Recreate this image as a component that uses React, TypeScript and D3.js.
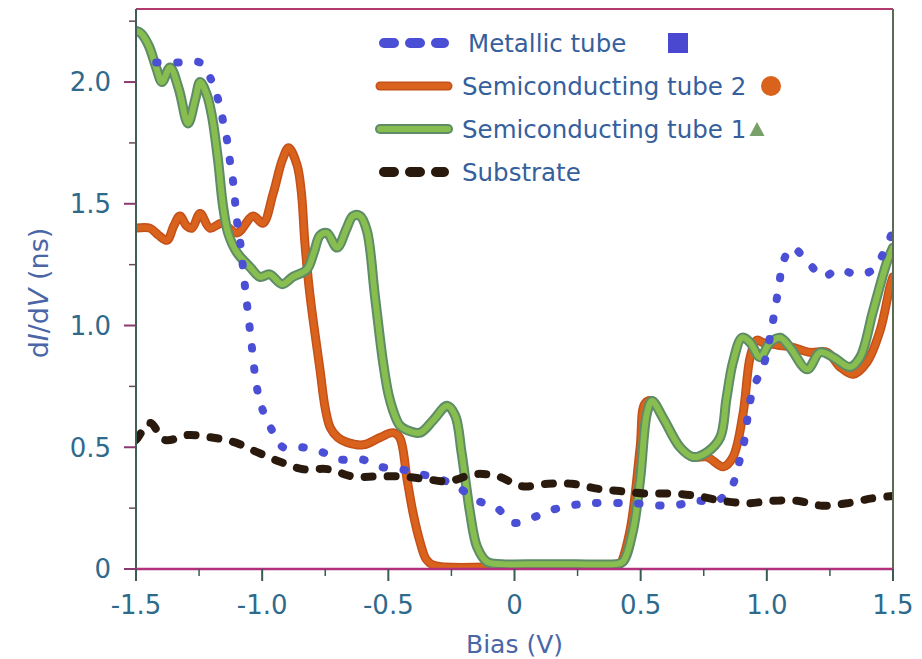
import React from "react";
import * as d3 from "d3";

// ---- data ----
const metallicTube: [number, number][] = [
  [-1.42, 2.08], [-1.3, 2.08], [-1.246, 2.08], [-1.207, 2.02], [-1.175, 1.93], [-1.155, 1.84],
  [-1.139, 1.76], [-1.127, 1.67], [-1.115, 1.59], [-1.1, 1.43], [-1.088, 1.35], [-1.068, 1.16],
  [-1.045, 0.95], [-1.02, 0.74], [-0.997, 0.65], [-0.961, 0.57], [-0.917, 0.5], [-0.842, 0.5],
  [-0.763, 0.48], [-0.691, 0.45], [-0.604, 0.45], [-0.533, 0.42], [-0.454, 0.41], [-0.374, 0.39],
  [-0.295, 0.37], [-0.216, 0.33], [-0.144, 0.28], [-0.069, 0.25], [-0.006, 0.19], [0.07, 0.21],
  [0.141, 0.24], [0.22, 0.26], [0.3, 0.27], [0.47, 0.27], [0.628, 0.26], [0.716, 0.28],
  [0.803, 0.28], [0.862, 0.34], [0.882, 0.41], [0.906, 0.5], [0.934, 0.69], [0.953, 0.76],
  [0.985, 0.83], [1.021, 1.0], [1.049, 1.17], [1.064, 1.26], [1.1, 1.32], [1.163, 1.26],
  [1.223, 1.2], [1.282, 1.23], [1.358, 1.21], [1.421, 1.23], [1.496, 1.38],
];

const semiTube2: [number, number][] = [
  [-1.5, 1.4], [-1.445, 1.4], [-1.41, 1.37], [-1.377, 1.35], [-1.35, 1.41], [-1.326, 1.45],
  [-1.3, 1.41], [-1.278, 1.4], [-1.246, 1.46], [-1.207, 1.4], [-1.159, 1.42], [-1.1, 1.38],
  [-1.036, 1.45], [-0.997, 1.42], [-0.957, 1.54], [-0.92, 1.68], [-0.895, 1.73], [-0.862, 1.66],
  [-0.845, 1.55], [-0.83, 1.33], [-0.81, 1.12], [-0.771, 0.82], [-0.75, 0.66], [-0.73, 0.58],
  [-0.7, 0.54], [-0.664, 0.52], [-0.6, 0.51], [-0.533, 0.54], [-0.481, 0.56], [-0.455, 0.54],
  [-0.426, 0.37], [-0.402, 0.23], [-0.374, 0.11], [-0.35, 0.04], [-0.32, 0.015], [0.0, 0.01],
  [0.4, 0.01], [0.418, 0.02], [0.458, 0.16], [0.498, 0.5], [0.517, 0.68], [0.545, 0.69],
  [0.589, 0.62], [0.656, 0.5], [0.708, 0.46], [0.763, 0.46], [0.827, 0.42], [0.866, 0.46],
  [0.906, 0.64], [0.934, 0.87], [0.961, 0.94], [0.985, 0.93], [1.04, 0.92], [1.104, 0.91],
  [1.171, 0.89], [1.239, 0.89], [1.29, 0.83], [1.342, 0.8], [1.397, 0.85], [1.449, 0.98],
  [1.488, 1.16], [1.5, 1.2],
];

const semiTube1: [number, number][] = [
  [-1.5, 2.21], [-1.48, 2.2], [-1.45, 2.15], [-1.42, 2.06], [-1.397, 2.0], [-1.365, 2.06],
  [-1.33, 1.97], [-1.294, 1.83], [-1.265, 1.93], [-1.246, 2.0], [-1.22, 1.95], [-1.199, 1.86],
  [-1.175, 1.68], [-1.155, 1.49], [-1.135, 1.38], [-1.1, 1.3], [-1.048, 1.24], [-1.009, 1.2],
  [-0.97, 1.21], [-0.921, 1.17], [-0.878, 1.2], [-0.823, 1.23], [-0.795, 1.3], [-0.771, 1.37],
  [-0.743, 1.38], [-0.703, 1.32], [-0.665, 1.4], [-0.64, 1.45], [-0.612, 1.45], [-0.585, 1.39],
  [-0.553, 1.12], [-0.521, 0.85], [-0.5, 0.72], [-0.481, 0.65], [-0.455, 0.59], [-0.426, 0.57],
  [-0.374, 0.56], [-0.323, 0.61], [-0.267, 0.67], [-0.235, 0.63], [-0.21, 0.48], [-0.19, 0.33],
  [-0.176, 0.23], [-0.148, 0.09], [-0.109, 0.03], [-0.05, 0.02], [0.1, 0.02], [0.25, 0.02],
  [0.4, 0.02], [0.43, 0.03], [0.47, 0.16], [0.498, 0.37], [0.525, 0.64], [0.545, 0.69],
  [0.589, 0.62], [0.656, 0.5], [0.708, 0.46], [0.763, 0.48], [0.815, 0.54], [0.84, 0.7],
  [0.866, 0.85], [0.902, 0.95], [0.934, 0.93], [0.973, 0.87], [1.013, 0.93], [1.053, 0.95],
  [1.092, 0.91], [1.16, 0.82], [1.211, 0.89], [1.263, 0.87], [1.33, 0.83], [1.37, 0.87],
  [1.421, 1.06], [1.476, 1.26], [1.5, 1.32],
];

const substrate: [number, number][] = [
  [-1.5, 0.53], [-1.492, 0.54], [-1.445, 0.6], [-1.385, 0.53], [-1.294, 0.55], [-1.199, 0.54],
  [-1.108, 0.52], [-1.02, 0.48], [-0.929, 0.44], [-0.838, 0.41], [-0.739, 0.41], [-0.64, 0.38],
  [-0.545, 0.38], [-0.446, 0.38], [-0.355, 0.37], [-0.263, 0.36], [-0.156, 0.39], [-0.065, 0.38],
  [0.03, 0.34], [0.133, 0.35], [0.228, 0.35], [0.327, 0.33], [0.418, 0.32], [0.517, 0.31],
  [0.624, 0.31], [0.723, 0.3], [0.823, 0.28], [0.922, 0.27], [1.021, 0.28], [1.12, 0.28],
  [1.219, 0.26], [1.318, 0.27], [1.417, 0.29], [1.5, 0.3],
];

const seriesNames = ["Metallic tube", "Semiconducting tube 2", "Semiconducting tube 1", "Substrate"];

const xMajorTicks = [-1.5, -1.0, -0.5, 0, 0.5, 1.0, 1.5];
const xTickLabels = ["-1.5", "-1.0", "-0.5", "0", "0.5", "1.0", "1.5"];
const xMinorTicks = [-1.25, -0.75, -0.25, 0.25, 0.75, 1.25];
const yMajorTicks = [0, 0.5, 1.0, 1.5, 2.0];
const yTickLabels = ["0", "0.5", "1.0", "1.5", "2.0"];
const yMinorTicks = [0.25, 0.75, 1.25, 1.75, 2.25];

// ---- layout ----
const W = 922;
const H = 659;
const L = 136;
const R = 893;
const T = 9;
const B = 569;

const FONT = "'DejaVu Sans', sans-serif";
const TEXT = "#35609c";
const TICKTEXT = "#2f6a8c";
const BLUE = "#4b4fd6";
const ORANGE = "#d9621c";
const GREEN = "#88bd50";
const GREEN_EDGE = "#5e8c66";
const DARK = "#2a1a0e";

export default function App() {
  const x = d3.scaleLinear().domain([-1.5, 1.5]).range([L, R]);
  const y = d3.scaleLinear().domain([0, 2.3]).range([B, T]);
  const line = d3
    .line<[number, number]>()
    .x((d) => x(d[0]))
    .y((d) => y(d[1]))
    .curve(d3.curveCatmullRom.alpha(0.5));

  const legendY = [43, 86, 129, 172];
  const lx0 = 380;
  const lx1 = 448;

  return (
    <svg
      width={W}
      height={H}
      style={{ position: "absolute", left: 0, top: 0, background: "#fff" }}
      fontFamily={FONT}
    >
      <defs>
        <clipPath id="plot">
          <rect x={L} y={T} width={R - L} height={B - T} />
        </clipPath>
      </defs>

      {/* curves */}
      <g clipPath="url(#plot)" fill="none">
        <path d={line(semiTube2) || ""} stroke="#c4501a" strokeWidth={9} strokeLinejoin="round" strokeLinecap="round" />
        <path d={line(semiTube2) || ""} stroke={ORANGE} strokeWidth={6} strokeLinejoin="round" strokeLinecap="round" />
        <path d={line(semiTube1) || ""} stroke={GREEN_EDGE} strokeWidth={10} strokeLinejoin="round" strokeLinecap="round" />
        <path d={line(semiTube1) || ""} stroke={GREEN} strokeWidth={6} strokeLinejoin="round" strokeLinecap="round" />
        <path d={line(metallicTube) || ""} stroke={BLUE} strokeWidth={8} strokeDasharray="1.5 19.5" strokeLinecap="round" />
        <path d={line(substrate) || ""} stroke={DARK} strokeWidth={8} strokeDasharray="8 15" strokeLinecap="round" />
      </g>

      {/* frame */}
      <line x1={L} x2={R} y1={T} y2={T} stroke="#b23a6c" strokeWidth={2} />
      <line x1={R} x2={R} y1={T} y2={B} stroke="#5d6b52" strokeWidth={2} />
      <line x1={L} x2={L} y1={T} y2={B + 12} stroke="#3f5f55" strokeWidth={2} />
      <line x1={L} x2={R} y1={B} y2={B} stroke="#b3307c" strokeWidth={2.5} />

      {/* y ticks */}
      {yMajorTicks.map((v) => (
        <line key={"ym" + v} x1={L - 12} x2={L} y1={y(v)} y2={y(v)} stroke="#8a3a6e" strokeWidth={2} />
      ))}
      {yMinorTicks.map((v) => (
        <line key={"yn" + v} x1={L - 7} x2={L} y1={y(v)} y2={y(v)} stroke="#6a4a5a" strokeWidth={1.5} />
      ))}
      {yMajorTicks.map((v, i) => (
        <text key={"yl" + v} x={L - 25} y={y(v)} dy="0.36em" textAnchor="end" fontSize={26} fill={TICKTEXT}>
          {yTickLabels[i]}
        </text>
      ))}

      {/* x ticks */}
      {xMajorTicks.map((v) => (
        <line key={"xm" + v} x1={x(v)} x2={x(v)} y1={B} y2={B + 12} stroke="#3a5a5a" strokeWidth={2} />
      ))}
      {xMinorTicks.map((v) => (
        <line key={"xn" + v} x1={x(v)} x2={x(v)} y1={B} y2={B + 7} stroke="#3a5a5a" strokeWidth={1.5} />
      ))}
      {xMajorTicks.map((v, i) => (
        <text key={"xl" + v} x={x(v)} y={605} dy="0.36em" textAnchor="middle" fontSize={26} fill={TICKTEXT}>
          {xTickLabels[i]}
        </text>
      ))}

      {/* axis titles */}
      <text x={(L + R) / 2} y={644} dy="0.36em" textAnchor="middle" fontSize={25} fill="#4a66a6">
        Bias (V)
      </text>
      <text
        transform={`translate(38, ${293}) rotate(-90)`}
        dy="0.36em"
        textAnchor="middle"
        fontSize={27}
        fill="#4a66a6"
      >
        d<tspan fontStyle="italic">I</tspan>/d<tspan fontStyle="italic">V</tspan> (ns)
      </text>

      {/* legend */}
      <g>
        <line x1={384} x2={444} y1={legendY[0]} y2={legendY[0]} stroke={BLUE} strokeWidth={10} strokeDasharray="10 16" strokeLinecap="round" />
        <line x1={lx0} x2={lx1} y1={legendY[1]} y2={legendY[1]} stroke="#c4501a" strokeWidth={9} strokeLinecap="round" />
        <line x1={lx0} x2={lx1} y1={legendY[1]} y2={legendY[1]} stroke={ORANGE} strokeWidth={6} strokeLinecap="round" />
        <line x1={lx0} x2={lx1} y1={legendY[2]} y2={legendY[2]} stroke={GREEN_EDGE} strokeWidth={10} strokeLinecap="round" />
        <line x1={lx0} x2={lx1} y1={legendY[2]} y2={legendY[2]} stroke={GREEN} strokeWidth={6} strokeLinecap="round" />
        <line x1={384} x2={444} y1={legendY[3]} y2={legendY[3]} stroke={DARK} strokeWidth={10} strokeDasharray="10 16" strokeLinecap="round" />
        {seriesNames.map((n, i) => (
          <text key={n} x={i === 0 ? 468 : 462} y={legendY[i]} dy="0.36em" fontSize={24.5} fill={TEXT}>
            {n}
          </text>
        ))}
        <rect x={668} y={33} width={20} height={20} fill="#4a48d0" />
        <circle cx={771} cy={86} r={10} fill={ORANGE} />
        <path d="M757,122 L764.5,136 L749.5,136 Z" fill="#7aa06a" />
      </g>
    </svg>
  );
}
